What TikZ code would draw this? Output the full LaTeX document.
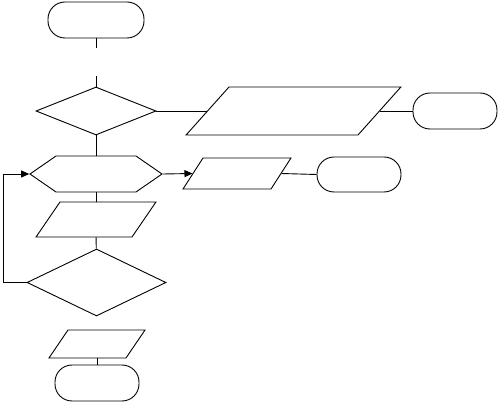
\documentclass[tikz,border=0pt]{standalone}
\usepackage{tikz}
\usetikzlibrary{arrows.meta,positioning,shapes.geometric,shapes.symbols}

\begin{document}
\begin{tikzpicture}[x=1pt,y=-1pt,line width=0.9pt,
  term/.style={draw,rectangle,rounded corners=17pt,inner sep=0pt,minimum width=84pt,minimum height=36pt},
  decide/.style={draw,diamond,inner sep=0pt},
  io/.style={draw,trapezium,trapezium left angle=#1,trapezium right angle=180-#1},
  prep/.style={draw,signal,signal to=west and east,inner sep=0pt,signal pointer angle=69.4},
  arr/.style={-{Triangle[length=8pt,width=7pt]}}]
  \useasboundingbox (0,0) rectangle (499,403);
  % main column
  \node[term,minimum width=96pt] (start) at (96,20) {};
  \coordinate (gapA) at (96,48);
  \coordinate (gapB) at (96,76);
  \node[decide,minimum width=120pt,minimum height=48pt] (check) at (96,111) {};
  \node[prep,minimum width=132pt,minimum height=36pt] (loop) at (96,174) {};
  \node[io=55.6,inner xsep=36pt,inner ysep=17.5pt] (read) at (96,219.5) {};
  \node[decide,minimum width=139pt,minimum height=67pt] (again) at (96.5,282.5) {};
  \node[io=55.8,inner xsep=29pt,inner ysep=14pt] (show) at (97,344) {};
  \node[term] (stop) at (97,383) {};
  % side branches
  \node[io=48.2,inner xsep=64.5pt,inner ysep=24pt] (msg) at (293.5,111) {};
  \node[term] (stopA) at (455,111) {};
  \node[io=57.2,inner xsep=34pt,inner ysep=15.5pt] (out) at (237,173.5) {};
  \node[term,minimum height=35pt] (stopB) at (359,174.5) {};
  \coordinate (back) at (3,282.5);
  % connectors
  \draw (start) -- (gapA);
  \draw (gapB) -- (check);
  \draw (check) -- (loop);
  \draw (loop) -- (read);
  \draw (read) -- (again);
  \draw (show) -- (stop);
  \draw (check.east) -- (msg.west);
  \draw (msg.east) -- (stopA.west);
  \draw[arr] (loop.east) -- (out.west);
  \draw (out.east) -- (stopB.west);
  \draw[arr] (again.west) -- (back) |- (loop.west);
\end{tikzpicture}
\end{document}
